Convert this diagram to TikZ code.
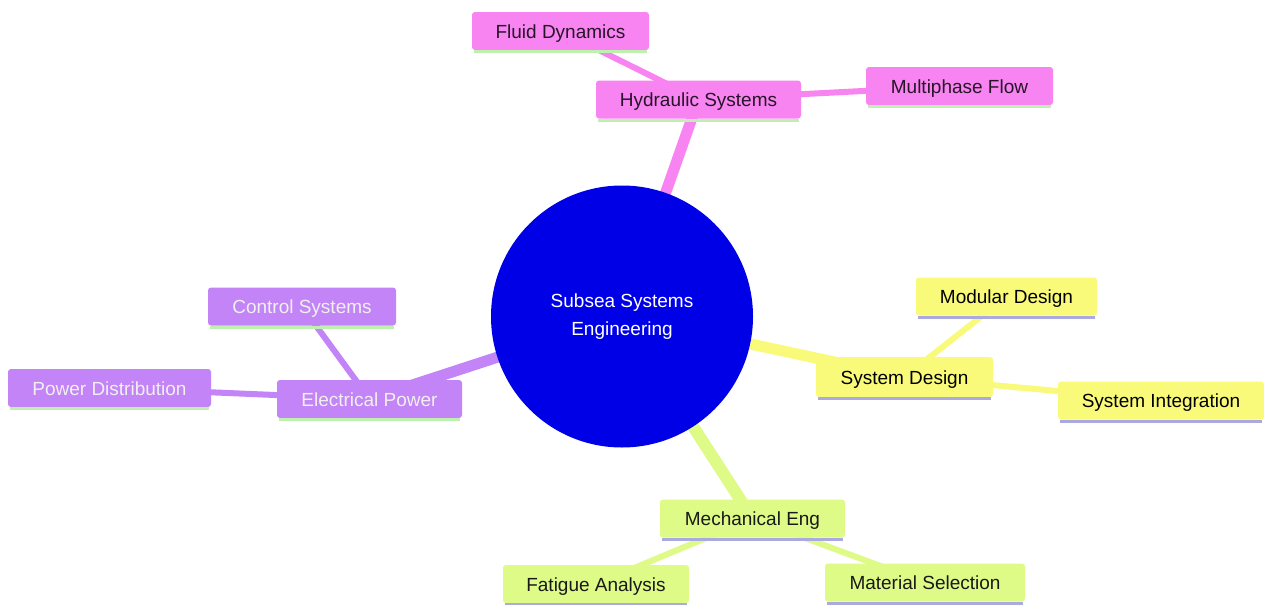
\documentclass[tikz,border=0pt]{standalone}
\usepackage{fontspec}
\setmainfont{Liberation Sans}
\usetikzlibrary{backgrounds,calc}
\definecolor{rootblue}{RGB}{0,0,230}
\definecolor{pinkc}{RGB}{247,132,240}
\definecolor{purplec}{RGB}{194,132,246}
\definecolor{yellowc}{RGB}{250,250,122}
\definecolor{greenc}{RGB}{222,250,135}
\definecolor{greenline}{RGB}{190,240,175}
\definecolor{lavline}{RGB}{170,170,225}
\definecolor{darktext}{RGB}{40,20,40}
\begin{document}
\begin{tikzpicture}[x=1pt,y=-1pt,
  every node/.style={font=\fontsize{19}{23}\selectfont},
  box/.style={rectangle, rounded corners=3pt, inner sep=0pt, minimum height=38pt, align=center,
              text height=14pt, text depth=0pt},
  pinkbox/.style={box, fill=pinkc, text=darktext},
  purplebox/.style={box, fill=purplec, text=white!94!black},
  yellowbox/.style={box, fill=yellowc, text=black},
  greenbox/.style={box, fill=greenc, text=black!90},
  edgeA/.style={line width=11pt},
  edgeB/.style={line width=6pt},
  gline/.style={greenline, line width=3pt},
  lline/.style={lavline, line width=3pt}]
\useasboundingbox (0,0) rectangle (1264,605);

% root
\node[circle, fill=rootblue, minimum size=262pt, inner sep=0pt, text=white, align=center,
      font=\fontsize{19}{28}\selectfont] (root) at (622,316.5) {Subsea Systems\\Engineering};

% hydraulic branch
\node[pinkbox, minimum width=205pt] (hyd) at (698.5,99.5) {Hydraulic Systems};
\node[pinkbox, minimum width=177pt] (fluid) at (560.5,31) {Fluid Dynamics};
\node[pinkbox, minimum width=187pt] (multi) at (959.5,86) {Multiphase Flow};

% electrical branch
\node[purplebox, minimum width=185pt] (elec) at (369.5,399) {Electrical Power};
\node[purplebox, minimum width=188pt] (control) at (302,306.5) {Control Systems};
\node[purplebox, minimum width=203pt] (power) at (109.5,388) {Power Distribution};

% system design branch
\node[yellowbox, minimum width=177pt, minimum height=40pt] (sysdes) at (904.5,377) {System Design};
\node[yellowbox, minimum width=181pt] (modular) at (1006.5,296.5) {Modular Design};
\node[yellowbox, minimum width=206pt] (integ) at (1161,400.5) {System Integration};

% mechanical branch
\node[greenbox, minimum width=185pt] (mech) at (752.5,518.5) {Mechanical Eng};
\node[greenbox, minimum width=186pt] (fatigue) at (596,584) {Fatigue Analysis};
\node[greenbox, minimum width=200pt] (material) at (925,582.5) {Material Selection};

% bottom lines
\foreach \n in {hyd,fluid,multi,elec,control,power}
  \draw[gline] ($(\n.south west)+(2,1.5)$) -- ($(\n.south east)+(-2,1.5)$);
\foreach \n in {sysdes,modular,integ,mech,fatigue,material}
  \draw[lline] ($(\n.south west)+(2,1.5)$) -- ($(\n.south east)+(-2,1.5)$);

\begin{pgfonlayer}{background}
  \fill[white] (0,0) rectangle (1264,605);
  \draw[pinkc, edgeA] (root.center) -- (hyd.center);
  \draw[pinkc, edgeB] (hyd.center) -- (fluid.center);
  \draw[pinkc, edgeB] (hyd.center) -- (multi.center);
  \draw[purplec, edgeA] (root.center) -- (elec.center);
  \draw[purplec, edgeB] (elec.center) -- (control.center);
  \draw[purplec, edgeB] (elec.center) -- (power.center);
  \draw[yellowc, edgeA] (root.center) -- (sysdes.center);
  \draw[yellowc, edgeB] (sysdes.center) -- (modular.center);
  \draw[yellowc, edgeB] (sysdes.center) -- (integ.center);
  \draw[greenc, edgeA, line width=12pt] (root.center) -- (mech.center);
  \draw[greenc, edgeB] (mech.center) -- (fatigue.center);
  \draw[greenc, edgeB] (mech.center) -- (material.center);
\end{pgfonlayer}
\end{tikzpicture}
\end{document}
